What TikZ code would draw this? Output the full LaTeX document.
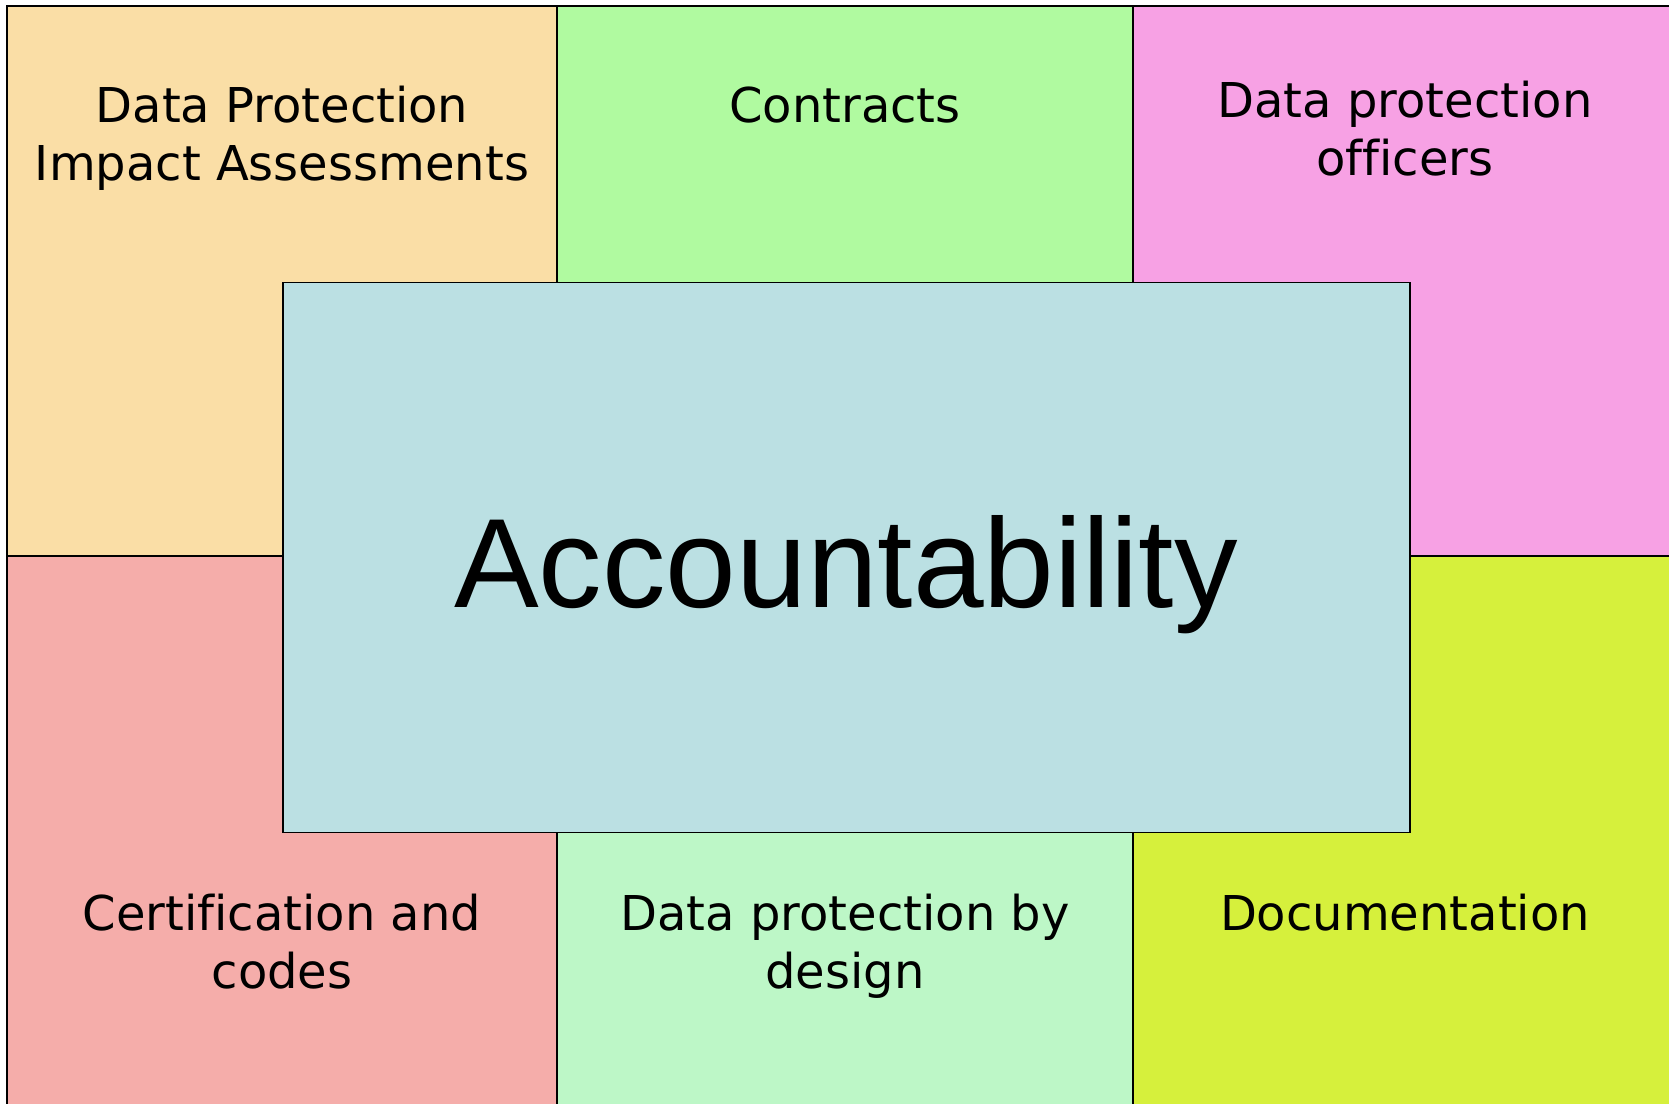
\documentclass[tikz,border=0pt]{standalone}
\usepackage{fontspec}
\setmainfont[Ligatures={NoCommon}]{DejaVu Sans}
\newfontfamily\accfont{Liberation Sans}
\definecolor{cpeach}{RGB}{250,222,166}
\definecolor{cgreen}{RGB}{176,250,160}
\definecolor{cpink}{RGB}{247,161,228}
\definecolor{csalmon}{RGB}{245,173,170}
\definecolor{clgreen}{RGB}{189,247,199}
\definecolor{clime}{RGB}{214,240,60}
\definecolor{cblue}{RGB}{187,224,227}
\tikzset{
  cell/.style={draw=black, line width=1.5pt},
  celltext/.style={font=\fontsize{48}{58.5}\selectfont, align=center, anchor=base, inner sep=0pt},
  acctext/.style={font=\accfont\fontsize{127}{140}\selectfont, anchor=base, inner sep=0pt}
}
\begin{document}
\begin{tikzpicture}[x=1pt,y=-1pt]
\useasboundingbox (0,0) rectangle (1669,1103);
\fill[white] (0,0) rectangle (1669,1103);
\filldraw[cell, fill=cpeach] (7,6) rectangle (557,556);
\filldraw[cell, fill=cgreen] (557,6) rectangle (1133,556);
\filldraw[cell, fill=cpink] (1133,6) rectangle (1712,556);
\filldraw[cell, fill=csalmon] (7,556) rectangle (557,1110);
\filldraw[cell, fill=clgreen] (557,556) rectangle (1133,1110);
\filldraw[cell, fill=clime] (1133,556) rectangle (1712,1110);
\node[cell, fill=cblue, minimum width=1127pt, minimum height=550pt, inner sep=0pt, anchor=north west] (center) at (282,281.5) {};
\node[celltext] (dpia1) at (282,122) {Data Protection};
\node[celltext] (dpia2) at (282,180.5) {Impact Assessments};
\node[celltext] (contracts) at (845,122) {Contracts};
\node[celltext] (dpo1) at (1405,117) {Data protection};
\node[celltext] (dpo2) at (1405,175.5) {officers};
\node[celltext] (cert1) at (282,930) {Certification and};
\node[celltext] (cert2) at (282,988.5) {codes};
\node[celltext] (dpbd1) at (845,930) {Data protection by};
\node[celltext] (dpbd2) at (845,988.5) {design};
\node[celltext] (doc) at (1405,930) {Documentation};
\node[acctext] (acc) at (846,607) {Accountability};
\end{tikzpicture}
\end{document}
